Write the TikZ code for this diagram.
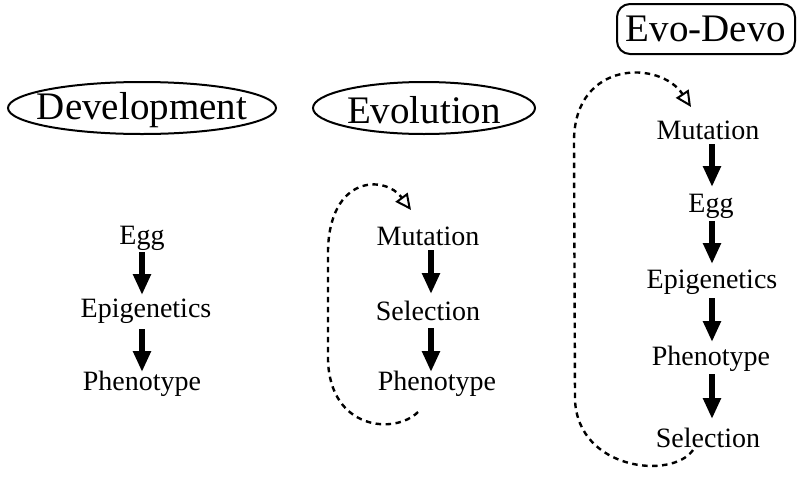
\documentclass[tikz,border=0pt]{standalone}
\usepackage{fontspec}
\setmainfont{Liberation Serif}
\usetikzlibrary{arrows.meta}
\begin{document}
\begin{tikzpicture}[x=1pt,y=-1pt,
  lbl/.style={inner sep=0pt,font=\fontsize{28}{30}\selectfont},
  hdr/.style={inner sep=0pt,font=\fontsize{39}{40}\selectfont},
  frame/.style={line width=2pt},
  flow/.style={line width=5.5pt,-{Triangle[length=21pt,width=17pt]}},
  loop/.style={line width=2.4pt,dash pattern=on 5.5pt off 4.5pt,-{Triangle[open,length=16pt,width=15pt,line width=2pt]}}]
\useasboundingbox (0,0) rectangle (797,477);
% headers
\coordinate (devc) at (142,108);
\node[hdr] (dev) at (142,110) {Development};
\draw[frame] (devc) ellipse [x radius=134pt, y radius=26pt];
\coordinate (evoc) at (424,108);
\node[hdr] (evo) at (424,110) {Evolution};
\draw[frame] (evoc) ellipse [x radius=111pt, y radius=26pt];
\node[hdr,draw,frame,rounded corners=13pt,minimum width=178pt,minimum height=50pt] (ed) at (706,29) {Evo-Devo};
% left column
\node[lbl] (l1) at (142,238) {Egg};
\node[lbl] (l2) at (146,311) {Epigenetics};
\node[lbl] (l3) at (142,384) {Phenotype};
\coordinate (la1) at (142,252); \coordinate (lb1) at (142,295);
\coordinate (la2) at (142,329); \coordinate (lb2) at (142,372);
\draw[flow] (la1) -- (lb1);
\draw[flow] (la2) -- (lb2);
% middle column
\node[lbl] (m1) at (428,236) {Mutation};
\node[lbl] (m2) at (428,311) {Selection};
\node[lbl] (m3) at (437,384) {Phenotype};
\coordinate (ma1) at (431,250); \coordinate (mb1) at (431,294);
\coordinate (ma2) at (431,328); \coordinate (mb2) at (431,372);
\draw[flow] (ma1) -- (mb1);
\draw[flow] (ma2) -- (mb2);
\coordinate (ms) at (418,412);
\coordinate (me) at (411,210);
\draw[loop] (ms) .. controls (395,435) and (330,430) .. (328,360)
  -- (328,250) .. controls (330,175) and (385,175) .. (me);
% right column
\node[lbl] (r1) at (708,130) {Mutation};
\node[lbl] (r2) at (711,206) {Egg};
\node[lbl] (r3) at (712,282) {Epigenetics};
\node[lbl] (r4) at (711,359) {Phenotype};
\node[lbl] (r5) at (708,438) {Selection};
\coordinate (ra1) at (712,144); \coordinate (rb1) at (712,187);
\coordinate (ra2) at (712,221); \coordinate (rb2) at (712,264);
\coordinate (ra3) at (712,298); \coordinate (rb3) at (712,342);
\coordinate (ra4) at (712,374); \coordinate (rb4) at (712,419);
\draw[flow] (ra1) -- (rb1);
\draw[flow] (ra2) -- (rb2);
\draw[flow] (ra3) -- (rb3);
\draw[flow] (ra4) -- (rb4);
\coordinate (rs) at (693,450);
\coordinate (re) at (691,107);
\draw[loop] (rs) .. controls (672,480) and (578,470) .. (575,400)
  -- (574,140) .. controls (575,60) and (660,60) .. (re);
\end{tikzpicture}
\end{document}
